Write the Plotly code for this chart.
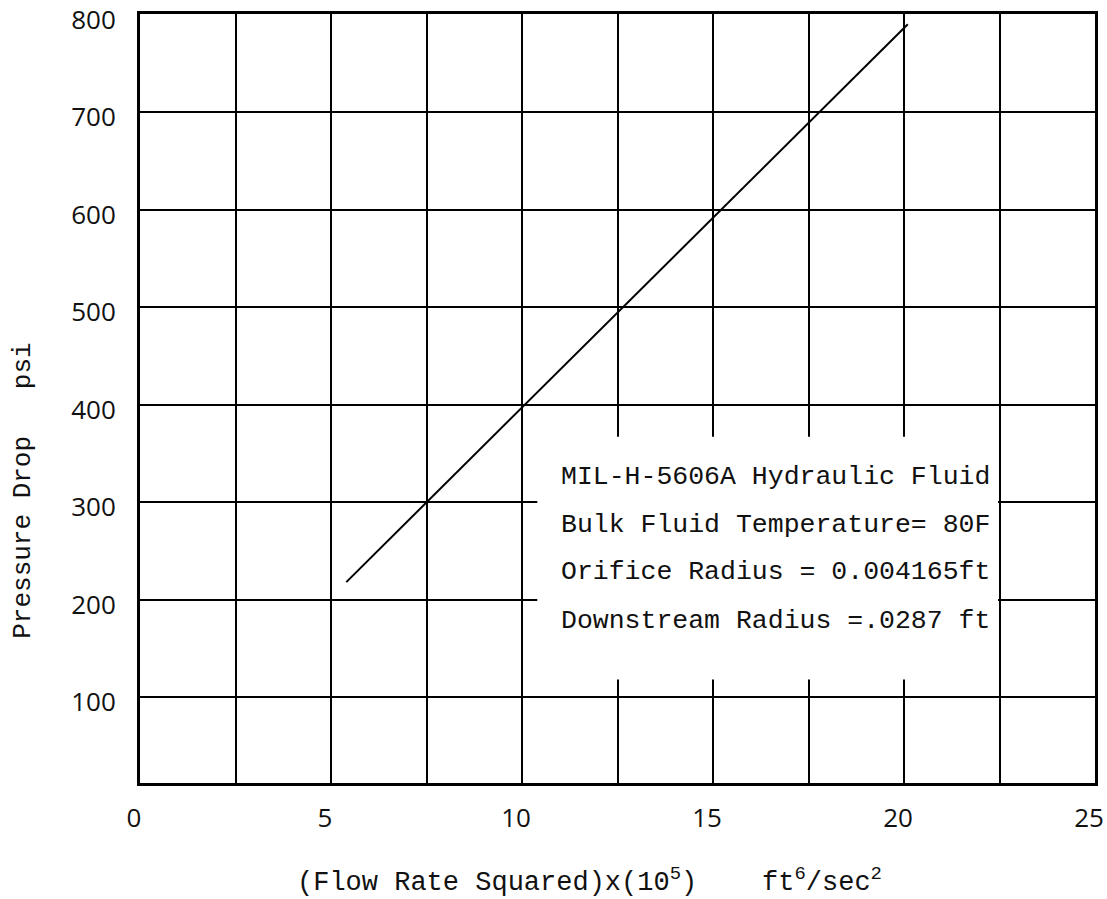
import plotly.graph_objects as go

# Data
flow_sq = [5.4, 20.1]          # (Flow Rate Squared) x 10^5, ft^6/sec^2
pressure_drop = [218, 790]     # psi

x_tick_vals = [0, 5, 10, 15, 20, 25]
x_tick_text = ["0", "5", "10", "15", "20", "25"]
y_tick_vals = [100, 200, 300, 400, 500, 600, 700, 800]
y_tick_text = ["100", "200", "300", "400", "500", "600", "700", "800"]

info_lines = [
    "MIL-H-5606A Hydraulic Fluid",
    "Bulk Fluid Temperature= 80F",
    "Orifice Radius = 0.004165ft",
    "Downstream Radius =.0287 ft",
]
info_y = [326, 277, 228, 178]

MONO = "Liberation Mono"
TICKF = "Open Sans"

fig = go.Figure()
fig.add_trace(go.Scatter(
    x=flow_sq, y=pressure_drop, mode="lines",
    line=dict(color="black", width=2), showlegend=False, hoverinfo="skip",
))

fig.update_layout(
    width=1107, height=899, autosize=False,
    margin=dict(l=140, r=12, t=14, b=116, autoexpand=False),
    plot_bgcolor="white", paper_bgcolor="white",
    showlegend=False,
)

fig.update_xaxes(
    range=[0, 25], tickmode="array", tickvals=x_tick_vals, ticktext=x_tick_text,
    showgrid=True, gridcolor="black", gridwidth=2,
    minor=dict(dtick=2.5, showgrid=True, gridcolor="black", gridwidth=2, ticks=""),
    showline=True, linecolor="black", linewidth=3, mirror=True,
    ticks="", zeroline=False, automargin=False, ticklabeloverflow="allow",
    tickfont=dict(family=TICKF, size=26, color="#111"),
    ticklabelstandoff=10, ticklabelshift=-6,
)
fig.update_yaxes(
    range=[12, 800.5], tickmode="array", tickvals=y_tick_vals, ticktext=y_tick_text,
    showgrid=True, gridcolor="black", gridwidth=2,
    showline=True, linecolor="black", linewidth=3, mirror=True,
    ticks="", zeroline=False, automargin=False, ticklabeloverflow="allow",
    tickfont=dict(family=TICKF, size=26, color="#111"),
    ticklabelstandoff=16, ticklabelshift=5,
)

# White label box covering grid
fig.add_shape(type="rect", xref="x", yref="y", x0=10.4, x1=22.46, y0=118, y1=367,
              fillcolor="white", line=dict(width=0), layer="above")

for txt, yy in zip(info_lines, info_y):
    fig.add_annotation(x=10.98, y=yy, xref="x", yref="y", text=txt, showarrow=False,
                       xanchor="left", yanchor="middle",
                       font=dict(family=MONO, size=26.5, color="#111"))

# Axis titles
fig.add_annotation(x=0, y=0.38, xref="paper", yref="paper", xshift=-117,
                   text="Pressure Drop   psi", textangle=-90, showarrow=False,
                   xanchor="center", yanchor="middle",
                   font=dict(family=MONO, size=26, color="#111"))
fig.add_annotation(x=0.471, y=0, xref="paper", yref="paper", yshift=-97,
                   text="(Flow Rate Squared)x(10<sup>5</sup>)    ft<sup>6</sup>/sec<sup>2</sup>",
                   showarrow=False, xanchor="center", yanchor="middle",
                   font=dict(family=MONO, size=27, color="#111"))

fig.write_html("out.html")
